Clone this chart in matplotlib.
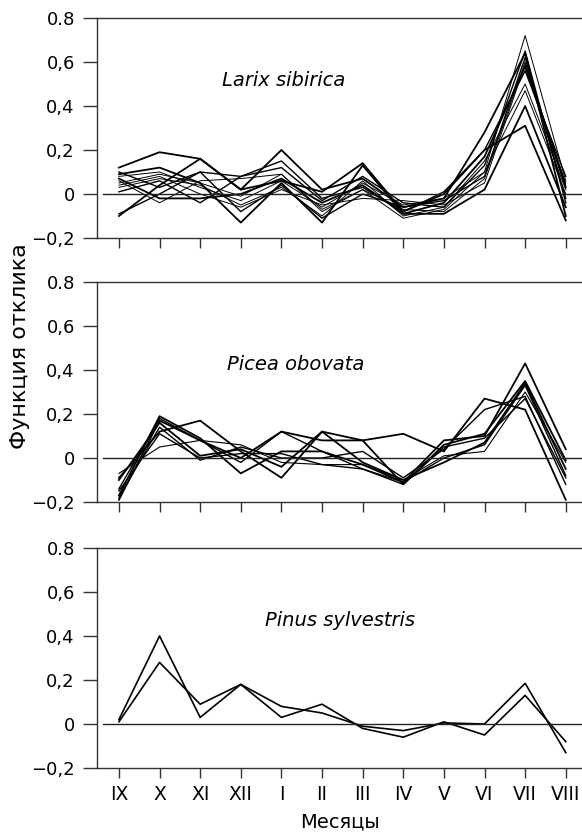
import matplotlib
matplotlib.use('Agg')
import matplotlib.pyplot as plt

months = ['IX', 'X', 'XI', 'XII', 'I', 'II', 'III', 'IV', 'V', 'VI', 'VII', 'VIII']
yticks = [-0.2, 0, 0.2, 0.4, 0.6, 0.8]
ytick_labels = ['\u22120,2', '0', '0,2', '0,4', '0,6', '0.8']

# Larix sibirica: one row per chronology
larix = [
    [0.12, 0.19, 0.16, 0.02, 0.20, 0.02, 0.07, -0.06, -0.02, 0.28, 0.64, -0.10],
    [0.09, 0.12, 0.05, -0.13, 0.05, -0.13, 0.13, -0.09, -0.04, 0.17, 0.58, 0.03],
    [-0.10, 0.04, 0.16, 0.02, 0.06, 0.01, 0.14, -0.08, 0.00, 0.20, 0.31, -0.12],
    [0.06, -0.04, 0.06, 0.07, 0.09, -0.07, 0.02, -0.11, -0.07, 0.10, 0.72, 0.06],
    [-0.09, 0.00, 0.10, 0.08, 0.15, -0.02, 0.03, -0.08, 0.01, 0.20, 0.56, 0.08],
    [0.08, 0.10, 0.03, -0.03, 0.06, -0.06, 0.05, -0.05, -0.02, 0.10, 0.47, 0.00],
    [0.01, 0.06, -0.04, 0.08, 0.12, -0.03, 0.08, -0.04, -0.06, 0.13, 0.65, -0.04],
    [0.05, 0.09, 0.05, -0.01, 0.09, -0.08, 0.02, -0.07, -0.08, 0.07, 0.60, 0.04],
    [0.07, -0.02, -0.02, 0.00, 0.07, -0.04, 0.04, -0.09, -0.09, 0.02, 0.40, -0.06],
    [0.03, 0.07, 0.04, -0.05, 0.03, -0.10, 0.06, -0.10, -0.06, 0.15, 0.50, 0.02],
    [0.10, 0.03, 0.10, -0.08, 0.04, -0.11, 0.00, -0.06, -0.03, 0.08, 0.62, -0.02],
    [0.04, 0.08, 0.00, -0.06, 0.02, -0.05, -0.02, -0.03, -0.05, 0.05, 0.59, 0.05],
]
larix_lw = [1.3, 1.3, 1.3, 0.7, 1.0, 0.7, 1.0, 0.7, 1.3, 0.7, 1.0, 0.7]

# Picea obovata
picea = [
    [-0.19, 0.17, 0.08, 0.00, 0.12, 0.08, 0.08, 0.11, 0.03, 0.27, 0.22, -0.19],
    [-0.17, 0.19, 0.09, -0.07, 0.03, 0.03, -0.03, -0.11, 0.08, 0.10, 0.43, 0.04],
    [-0.09, 0.12, 0.17, 0.03, -0.09, 0.12, 0.08, -0.12, 0.06, 0.11, 0.35, -0.01],
    [-0.14, 0.18, 0.08, -0.02, 0.12, 0.03, -0.05, -0.11, 0.00, 0.06, 0.33, -0.08],
    [-0.07, 0.05, 0.08, 0.06, -0.02, -0.03, -0.03, -0.10, 0.01, 0.03, 0.30, -0.02],
    [-0.15, 0.11, 0.00, 0.02, 0.02, -0.03, -0.05, -0.12, 0.05, 0.09, 0.27, -0.09],
    [-0.10, 0.16, 0.01, 0.04, -0.04, 0.12, -0.02, -0.10, -0.02, 0.07, 0.34, -0.05],
    [-0.18, 0.14, -0.01, 0.05, 0.00, 0.00, 0.03, -0.09, 0.04, 0.22, 0.28, -0.12],
]
picea_lw = [1.3, 1.3, 1.3, 1.0, 0.8, 1.0, 1.3, 1.0]

# Pinus sylvestris
pinus = [
    [0.02, 0.40, 0.03, 0.18, 0.03, 0.09, -0.02, -0.06, 0.01, -0.05, 0.13, -0.08],
    [0.01, 0.28, 0.09, 0.18, 0.08, 0.05, -0.01, -0.03, 0.005, 0.00, 0.185, -0.13],
]
pinus_lw = [1.2, 1.2]

panels = [('Larix sibirica', larix, larix_lw, (222, 80)),
          ('Picea obovata', picea, picea_lw, (227, 365)),
          ('Pinus sylvestris', pinus, pinus_lw, (265, 620))]

W, H = 582, 836
plt.rcParams['font.family'] = ['DejaVu Sans']
fig = plt.figure(figsize=(W / 100, H / 100), dpi=100)

tops = [18, 282, 548]
x = list(range(len(months)))

for i, (name, rows, lws, (tx, ty)) in enumerate(panels):
    top = tops[i]
    ax = fig.add_axes([97 / W, 1 - (top + 220) / H, 1 - 97 / W, 220 / H])
    for r, lw in zip(rows, lws):
        ax.plot(x, r, color='black', lw=lw)
    ax.axhline(0, xmin=6 / 485, color='#222222', lw=1.0)
    ax.set_xlim(-0.54, 11.4)
    ax.set_ylim(-0.2, 0.8)
    ax.set_yticks(yticks)
    ax.set_yticklabels(ytick_labels)
    ax.set_xticks(x)
    if i == 2:
        ax.set_xticklabels(months)
        ax.set_xlabel('Месяцы', fontsize=14, labelpad=6)
    else:
        ax.set_xticklabels([])
    ax.spines['right'].set_visible(False)
    for s in ['left', 'top', 'bottom']:
        ax.spines[s].set_linewidth(1.0)
        ax.spines[s].set_color('#333333')
    ax.tick_params(axis='y', direction='out', length=10, width=1.0, color='#333333',
                   labelsize=13, pad=6)
    ax.tick_params(axis='x', direction='out', length=7, width=1.0, color='#333333',
                   labelsize=13.5, pad=5)
    ax.text(tx / W, 1 - ty / H, name, transform=fig.transFigure, style='italic',
            fontsize=14, va='center', ha='left')

fig.text(20 / W, 1 - 346 / H, 'Функция отклика', rotation=90, fontsize=16,
         va='center', ha='center')

fig.savefig('out.png', dpi=100)
